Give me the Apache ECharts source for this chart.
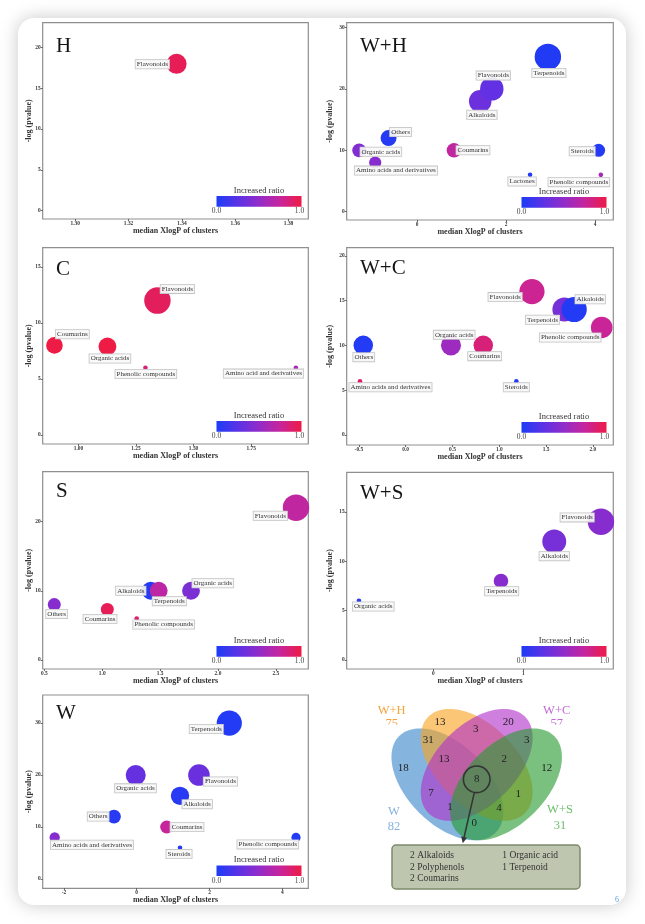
<!DOCTYPE html>
<html><head><meta charset="utf-8">
<script src="https://cdn.jsdelivr.net/npm/echarts@6/dist/echarts.min.js"></script>
<style>html,body{margin:0;padding:0;background:#fff;}#c{width:645px;height:924px;}</style>
</head><body><div id="c"></div>
<script>
// ---------------- DATA ----------------
// Panel H
const H_names = ['Flavonoids'];
const H_x = [1.338];
const H_y = [18];
const H_size = [19];
const H_ratio = [0.95];
const H_xTicks = [1.30, 1.32, 1.34, 1.36, 1.38];
const H_yTicks = [0, 5, 10, 15, 20];
// Panel W+H
const WH_names = ['Terpenoids','Alkaloids','Flavonoids','Others','Organic acids','Amino acids and derivatives','Coumarins','Lactones','Steroids','Phenolic compounds'];
const WH_x = [2.94, 1.42, 1.68, -0.64, -1.30, -0.94, 0.83, 2.54, 4.08, 4.13];
const WH_y = [25.2, 18, 20, 12, 10, 8, 10, 6, 10, 6];
const WH_size = [33, 24, 26, 12, 9, 7, 10, 1, 8, 1];
const WH_ratio = [0.02, 0.33, 0.28, 0.04, 0.42, 0.45, 0.72, 0.03, 0.03, 0.6];
const WH_xTicks = [0, 2, 4];
const WH_yTicks = [0, 10, 20, 30];
// Panel C
const C_names = ['Flavonoids','Coumarins','Organic acids','Phenolic compounds','Amino acid and derivatives'];
const C_x = [1.343, 0.896, 1.126, 1.291, 1.944];
const C_y = [12, 8, 7.9, 6, 6];
const C_size = [33, 13, 15, 1, 1];
const C_ratio = [0.93, 1, 1, 0.85, 0.6];
const C_xTicks = [1.00, 1.25, 1.50, 1.75];
const C_yTicks = [0, 5, 10, 15];
// Panel W+C
const WC_names = ['Flavonoids','Terpenoids','Alkaloids','Phenolic compounds','Organic acids','Coumarins','Others','Amino acids and derivatives','Steroids'];
const WC_x = [1.349, 1.695, 1.80, 2.094, 0.484, 0.829, -0.453, -0.488, 1.182];
const WC_y = [16, 14, 14, 12, 10, 10, 10, 6, 6];
const WC_size = [30, 27, 30, 22, 19, 18, 18, 1, 1];
const WC_ratio = [0.78, 0.38, 0.03, 0.76, 0.55, 0.85, 0.03, 0.9, 0.02];
const WC_xTicks = [-0.5, 0, 0.5, 1.0, 1.5, 2.0];
const WC_yTicks = [0, 5, 10, 15, 20];
// Panel S
const S_names = ['Flavonoids','Alkaloids','Terpenoids','Organic acids','Others','Coumarins','Phenolic compounds'];
const S_x = [2.674, 1.419, 1.488, 1.767, 0.586, 1.044, 1.298];
const S_y = [22, 10, 10, 10, 8, 7.3, 6];
const S_size = [33, 15, 15, 15, 8, 8, 1];
const S_ratio = [0.72, 0.04, 0.7, 0.4, 0.45, 0.95, 0.9];
const S_xTicks = [0.5, 1.0, 1.5, 2.0, 2.5];
const S_yTicks = [0, 10, 20];
// Panel W+S
const WS_names = ['Flavonoids','Alkaloids','Terpenoids','Organic acids'];
const WS_x = [1.863, 1.344, 0.752, -0.826];
const WS_y = [14, 12, 8, 6];
const WS_size = [33, 27, 10, 1];
const WS_ratio = [0.45, 0.38, 0.45, 0.05];
const WS_xTicks = [0, 1];
const WS_yTicks = [0, 5, 10, 15];
// Panel W
const W_names = ['Terpenoids','Organic acids','Flavonoids','Alkaloids','Others','Coumarins','Amino acids and derivatives','Steroids','Phenolic compounds'];
const W_x = [2.544, -0.027, 1.71, 1.19, -0.624, 0.824, -2.253, 1.19, 4.376];
const W_y = [30, 20, 20, 16, 12, 10, 8, 6, 8];
const W_size = [30, 19, 22, 16, 9, 8, 5, 1, 4];
const W_ratio = [0.03, 0.3, 0.32, 0.05, 0.05, 0.75, 0.45, 0.03, 0.03];
const W_xTicks = [-2, 0, 2, 4];
const W_yTicks = [0, 10, 20, 30];
// Venn
const vennSets = ['W+H', 'W+C', 'W', 'W+S'];
const vennTotals = [75, 57, 82, 31];
const vennRegions = ['WH','WC','W&WH','WH&WC','WC&WS','W','W&WH&WC','WH&WC&WS','WS','all','W&WC','WH&WS','W&WC&WS','W&WH&WS','W&WS'];
const vennCounts = [13, 20, 31, 3, 3, 18, 13, 2, 12, 8, 7, 1, 1, 4, 0];
const boxLeft = ['2 Alkaloids', '2 Polyphenols', '2 Coumarins'];
const boxRight = ['1 Organic acid', '1 Terpenoid'];

// ---------------- LAYOUT / STYLE ----------------
const FONT = "'Liberation Serif','DejaVu Serif',serif";
const STOPS = ['#1c3cf6', '#5a32e6', '#922cc9', '#c7259c', '#ee1b45'];

const panels = [
  {title:'H', names:H_names, x:H_x, y:H_y, n:H_size, r:H_ratio, xt:H_xTicks, yt:H_yTicks, xd:2,
   grid:[42.7,22.7,265.6,196.3], xr:[1.2878,1.3874], yr:[-1.02,23.04], tp:[56,46.3], yGap:9.3,
   lab:[[-24.2,0.5]]},
  {title:'W+H', names:WH_names, x:WH_x, y:WH_y, n:WH_size, r:WH_ratio, xt:WH_xTicks, yt:WH_yTicks, xd:0,
   grid:[346.7,22.7,266.6,197.3], xr:[-1.58,4.41], yr:[-1.35,30.78], tp:[360,46.3], yGap:13,
   lab:[[1,16],[1.7,13.6],[1.5,-13.3],[12,-6],[21.7,1.4],[20.7,8],[19,0],[-8,6.6],[-16.4,1],[-22,7.3]]},
  {title:'C', names:C_names, x:C_x, y:C_y, n:C_size, r:C_ratio, xt:C_xTicks, yt:C_yTicks, xd:2,
   grid:[42.7,247.7,265.6,196.3], xr:[0.845,1.998], yr:[-0.8,16.72], tp:[56,269.7], yGap:9.3,
   lab:[[19.9,-11.7],[17.9,-11.2],[2.5,12],[0.4,6.2],[-32.4,5.8]]},
  {title:'W+C', names:WC_names, x:WC_x, y:WC_y, n:WC_size, r:WC_ratio, xt:WC_xTicks, yt:WC_yTicks, xd:1,
   grid:[346.7,247.7,266.6,197.3], xr:[-0.63,2.218], yr:[-1.12,20.9], tp:[360,268.7], yGap:13,
   lab:[[-26.8,5.5],[-21.8,10.2],[16,-10.2],[-31.5,10],[3.2,-10.5],[1.4,10.8],[0.5,11.8],[30.5,6.1],[0,6.1]]},
  {title:'S', names:S_names, x:S_x, y:S_y, n:S_size, r:S_ratio, xt:S_xTicks, yt:S_yTicks, xd:1,
   grid:[42.7,471.7,265.6,197.3], xr:[0.486,2.78], yr:[-1.3,27.2], tp:[56,491.3], yGap:9.3,
   lab:[[-25.7,8.1],[-19.9,0],[10.6,10.4],[21.8,-7.5],[2.4,9.3],[-7.3,9.6],[27,6]]},
  {title:'W+S', names:WS_names, x:WS_x, y:WS_y, n:WS_size, r:WS_ratio, xt:WS_xTicks, yt:WS_yTicks, xd:0,
   grid:[346.7,472.3,266.6,196.7], xr:[-0.962,2.0], yr:[-0.91,19.0], tp:[360,493.5], yGap:13,
   lab:[[-23.8,-4.3],[0,14.7],[0.7,10.3],[14.3,5.8]]},
  {title:'W', names:W_names, x:W_x, y:W_y, n:W_size, r:W_ratio, xt:W_xTicks, yt:W_yTicks, xd:0,
   grid:[42.7,695,265.6,193.3], xr:[-2.582,4.714], yr:[-1.79,35.4], tp:[56,713.7], yGap:9.3,
   lab:[[-23,5.9],[-0.2,13.3],[21.5,6.5],[17.2,8.3],[-15.8,0],[20.3,0],[37.3,7.4],[-1,6.3],[-28.2,7]]}
];

const grids = [], xAxes = [], yAxes = [], series = [], graphics = [];

// card background
graphics.push({type:'rect', z:-100, shape:{x:18, y:18, width:608, height:887, r:16},
  style:{fill:'#fff', shadowBlur:18, shadowColor:'rgba(0,0,0,0.22)'}});

const tickLabel = {fontSize:5.4, fontWeight:'bold', fontFamily:FONT, color:'#333'};
const nameStyle = {fontSize:8, fontWeight:'bold', fontFamily:FONT, color:'#333'};

function txt(x, y, text, font, fill, align, z) {
  return {type:'text', z:z || 20, x:x, y:y,
    style:{text:text, font:font, fill:fill, align:align || 'center', verticalAlign:'middle'}};
}

panels.forEach((p, i) => {
  const [gl, gt, gw, gh] = p.grid;
  grids.push({left:gl, top:gt, width:gw, height:gh, show:true, borderColor:'#8f8f8f', borderWidth:1.2,
    backgroundColor:'transparent', containLabel:false, outerBoundsMode:'none'});
  xAxes.push({gridIndex:i, type:'value', min:p.xr[0], max:p.xr[1], position:'bottom',
    axisLine:{show:false, onZero:false}, splitLine:{show:false},
    axisTick:{show:true, length:2, lineStyle:{color:'#444', width:0.8}, customValues:p.xt},
    axisLabel:Object.assign({customValues:p.xt, margin:2, formatter:v => Number(v).toFixed(p.xd)}, tickLabel),
    name:'median XlogP of clusters', nameLocation:'middle', nameGap:8, nameMoveOverlap:false, nameTextStyle:nameStyle});
  yAxes.push({gridIndex:i, type:'value', min:p.yr[0], max:p.yr[1], position:'left',
    axisLine:{show:false, onZero:false}, splitLine:{show:false},
    axisTick:{show:true, length:2, lineStyle:{color:'#444', width:0.8}, customValues:p.yt},
    axisLabel:Object.assign({customValues:p.yt, margin:2, formatter:v => String(Math.round(v))}, tickLabel),
    name:'-log (pvalue)', nameLocation:'middle', nameGap:p.yGap, nameRotate:90, nameMoveOverlap:false, nameTextStyle:nameStyle});
  const data = p.names.map((nm, k) => ({
    name:nm, value:[p.x[k], p.y[k], p.n[k], p.r[k]],
    label:{offset:p.lab[k]}
  }));
  series.push({type:'scatter', xAxisIndex:i, yAxisIndex:i, data:data,
    symbolSize:v => 4.6 * Math.sqrt(v[2]), itemStyle:{opacity:1},
    emphasis:{disabled:true}, silent:true,
    label:{show:true, position:'inside', formatter:'{b}', fontSize:7, fontFamily:FONT, color:'#333',
      backgroundColor:'rgba(248,248,248,0.9)', borderColor:'#c4c4c4', borderWidth:0.8,
      padding:[1,1.2,0.4,1.2], lineHeight:7}
  });
  // title
  graphics.push(txt(p.tp[0], p.tp[1], p.title, '21px ' + FONT, '#151515', 'left'));
  // colorbar
  const bw = 85, bh = 10.6;
  const bx = gl + gw - 6.8 - bw, by = gt + gh - 12.3 - bh;
  graphics.push({type:'rect', z:20, shape:{x:bx, y:by, width:bw, height:bh},
    style:{fill:new echarts.graphic.LinearGradient(0,0,1,0, STOPS.map((c,k)=>({offset:k/(STOPS.length-1), color:c})))}});
  graphics.push(txt(bx + bw/2, by - 5.5, 'Increased ratio', '8.5px ' + FONT, '#333'));
  graphics.push(txt(bx, by + bh + 4.8, '0.0', '7.5px ' + FONT, '#444'));
  graphics.push(txt(bx + bw - 2, by + bh + 4.8, '1.0', '7.5px ' + FONT, '#444'));
});

// ---------------- VENN ----------------
function ellipsePts(cx, cy, a, b, ang) {
  const pts = [], c = Math.cos(ang), s = Math.sin(ang);
  for (let k = 0; k < 120; k++) {
    const t = k / 120 * 2 * Math.PI, ex = a * Math.cos(t), ey = b * Math.sin(t);
    pts.push([cx + ex * c - ey * s, cy + ex * s + ey * c]);
  }
  return pts;
}
const setLabelPos = [[391.7,711,723.8],[556.7,711,723.8],[394,811.7,826.7],[560,810,826]];
const setColors = ['#f5a33c','#c46ad6','#88b3de','#6dbd6d'];
vennSets.forEach((s, k) => {
  const [x, y1, y2] = setLabelPos[k];
  graphics.push(txt(x, y1, s, '12.5px ' + FONT, setColors[k], 'center', 5));
  graphics.push(txt(x, y2, String(vennTotals[k]), '12.5px ' + FONT, setColors[k], 'center', 5));
});
// clipped totals of top labels
graphics.push({type:'rect', z:6, shape:{x:382, y:724.6, width:20, height:8}, style:{fill:'#fff'}});
graphics.push({type:'rect', z:6, shape:{x:547, y:724.6, width:20, height:8}, style:{fill:'#fff'}});

const ellA = 68.25, ellB = 40;
const ells = [
  {c:[447.4,784.35], ang:Math.PI/4, fill:'#3a88cc'},
  {c:[476.7,764.85], ang:Math.PI/4, fill:'#f8a320'},
  {c:[476.7,764.85], ang:-Math.PI/4, fill:'#b230c9'},
  {c:[506.0,784.35], ang:-Math.PI/4, fill:'#289b30'}
];
ells.forEach((e, k) => {
  graphics.push({type:'polygon', z:10 + k, shape:{points:ellipsePts(e.c[0], e.c[1], ellA, ellB, e.ang)},
    style:{fill:e.fill, opacity:0.62}});
});
const regionPos = [[440,721.7],[508.3,721.7],[428.3,740],[475.7,729.3],[526.7,740],[403.3,768.3],[444,759],[504.3,759],
  [546.7,768.3],[476.7,779.3],[431,793.3],[518.3,794],[450,807.3],[499,808.3],[474.3,823.3]];
vennCounts.forEach((v, k) => {
  graphics.push(txt(regionPos[k][0], regionPos[k][1], String(v), '11px ' + FONT, '#222', 'center', 30));
});
// circle & arrow
graphics.push({type:'circle', z:31, shape:{cx:476.7, cy:779.3, r:13.3}, style:{fill:'none', stroke:'#333', lineWidth:1.6}});
(function(){
  const sx = 474.3, sy = 792.6, tx = 462.7, ty = 843.3;
  const dx = tx - sx, dy = ty - sy, L = Math.hypot(dx, dy), ux = dx / L, uy = dy / L, px = -uy, py = ux;
  const bx = tx - 6.5 * ux, by = ty - 6.5 * uy;
  graphics.push({type:'line', z:31, shape:{x1:sx, y1:sy, x2:bx, y2:by}, style:{stroke:'#333', lineWidth:1.5}});
  graphics.push({type:'polygon', z:31, shape:{points:[[tx,ty],[bx+3*px,by+3*py],[bx-3*px,by-3*py]]}, style:{fill:'#333'}});
})();
// box
graphics.push({type:'rect', z:30, shape:{x:392, y:845, width:188, height:44, r:4},
  style:{fill:'#bec6b0', stroke:'#7d8a6a', lineWidth:1.5}});
boxLeft.forEach((t, k) => graphics.push(txt(410, 855.7 + k * 11.5, t, '9.5px ' + FONT, '#333', 'left', 32)));
boxRight.forEach((t, k) => graphics.push(txt(502.3, 855.7 + k * 11.5, t, '9.5px ' + FONT, '#333', 'left', 32)));
graphics.push(txt(617, 900, '6', '8px ' + FONT, '#5aa0e6', 'center', 32));

const chart = echarts.init(document.getElementById('c'), null, {renderer:'canvas', width:645, height:924});
chart.setOption({
  animation:false,
  backgroundColor:'#fff',
  grid:grids, xAxis:xAxes, yAxis:yAxes, series:series,
  visualMap:{type:'continuous', show:false, min:0, max:1, dimension:3,
    seriesIndex:series.map((s,k)=>k), inRange:{color:STOPS}},
  graphic:{elements:graphics}
});
</script></body></html>
